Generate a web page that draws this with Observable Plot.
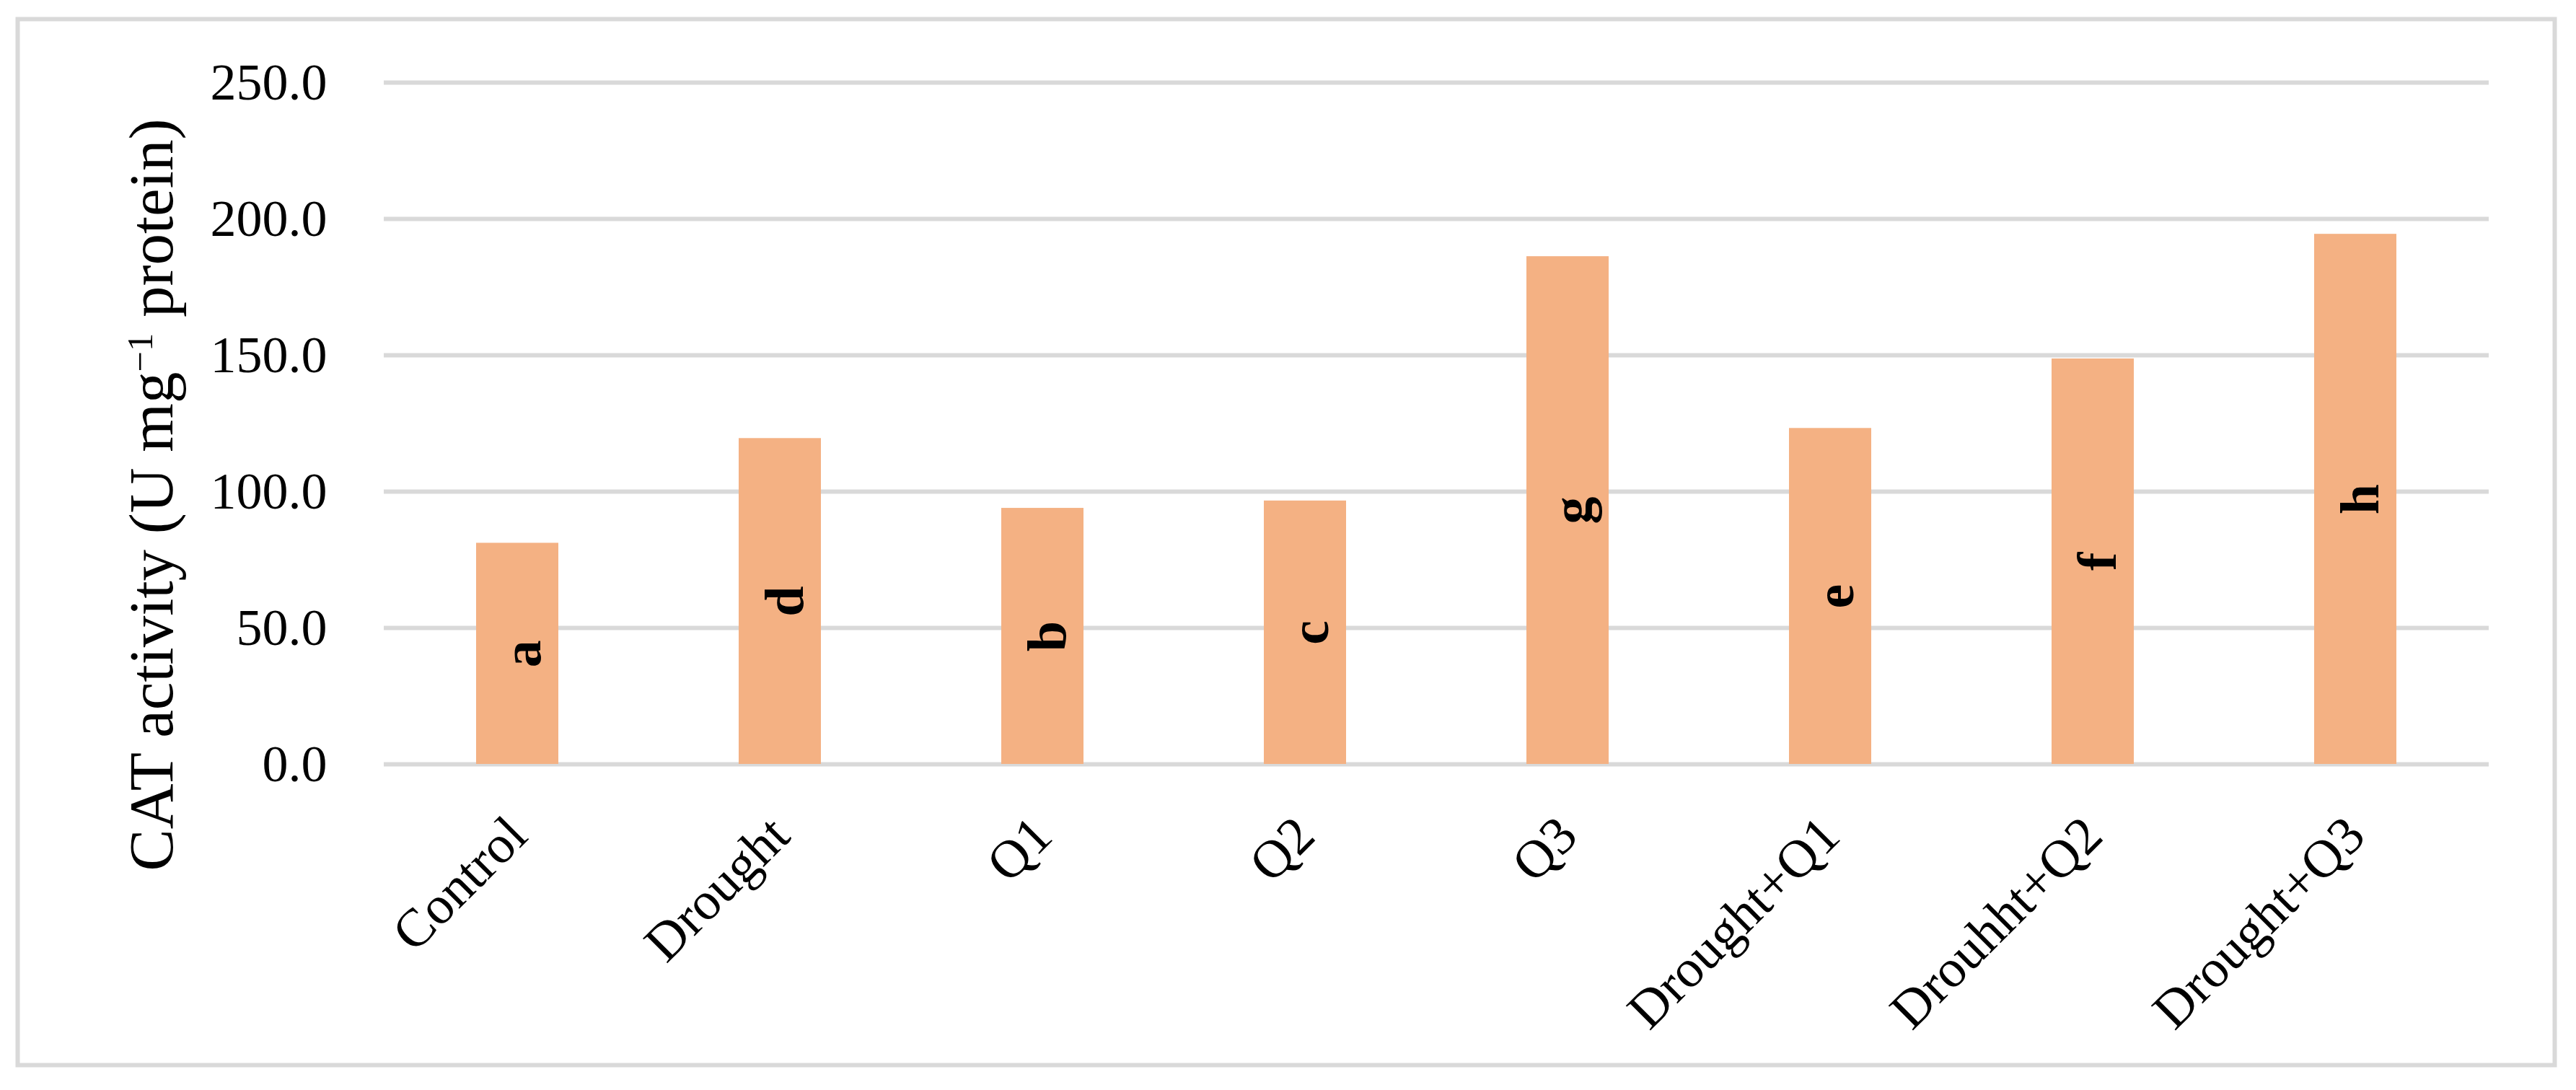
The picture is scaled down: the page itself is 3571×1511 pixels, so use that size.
<!DOCTYPE html>
<html><head><meta charset="utf-8">
<script src="https://cdn.jsdelivr.net/npm/d3@7"></script>
<script src="https://cdn.jsdelivr.net/npm/@observablehq/plot@0.6"></script>
<style>
body{margin:0;background:#fff;}
#wrap{position:relative;width:3571px;height:1511px;}
#ytitle{position:absolute;left:209px;top:686px;transform:translate(-50%,-50%) rotate(-90deg);font-family:"Liberation Serif",serif;font-size:87px;line-height:1;white-space:nowrap;color:#000;}
#ytitle sup{font-size:0.58em;line-height:0;vertical-align:0.55em;}
</style></head><body>
<div id="wrap"><div id="chart"></div><div id="ytitle">CAT activity (U mg<sup>−1</sup> protein)</div></div>
<script>
const treatments = ["Control","Drought","Q1","Q2","Q3","Drought+Q1","Drouhht+Q2","Drought+Q3"];
const catActivity = [81.1, 119.5, 93.9, 96.6, 186.2, 123.2, 148.7, 194.4];
const groupLetters = ["a","d","b","c","g","e","f","h"];
const yTicks = [0, 50, 100, 150, 200, 250];

const data = treatments.map((t, i) => ({t, v: catActivity[i], l: groupLetters[i]}));

const chart = Plot.plot({
  width: 3571, height: 1511,
  marginLeft: 532, marginRight: 121, marginTop: 114, marginBottom: 452,
  style: {fontFamily: "Liberation Serif", background: "white", color: "black", overflow: "visible"},
  x: {domain: treatments, paddingInner: 0.6875, paddingOuter: 0.34375, align: 0.5, label: null},
  y: {domain: [0, 250], label: null},
  marks: [
    Plot.frame({stroke: "#d9d9d9", strokeWidth: 6, insetLeft: -508, insetRight: -91, insetTop: -88, insetBottom: -417}),
    Plot.gridY(yTicks, {stroke: "#d9d9d9", strokeOpacity: 1, strokeWidth: 6}),
    Plot.barY(data, {x: "t", y: "v", fill: "#F4B183"}),
    Plot.text(data, {x: "t", y: d => d.v / 2, text: "l", rotate: -90, fontSize: 76, fontWeight: "bold", dx: 7, fill: "black"}),
    Plot.axisY(yTicks, {tickSize: 0, tickPadding: 79, fontSize: 72, tickFormat: d3.format(".1f"), label: null}),
    Plot.axisX({tickSize: 0, tickPadding: 86, tickRotate: -45, fontSize: 74, label: null})
  ]
});
document.getElementById("chart").appendChild(chart);
</script>
</body></html>
